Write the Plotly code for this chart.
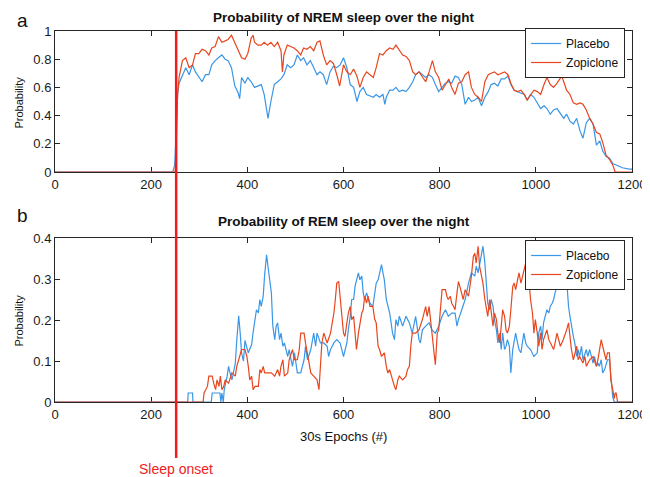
import plotly.graph_objects as go

# ---------------- data ----------------
nrem_placebo_epoch = [0, 245, 249, 252, 255, 258, 265, 272, 279, 286, 292, 299, 306, 313, 320, 326, 333, 340, 347, 354,
                      360, 367, 374, 381, 384, 388, 395, 401, 408, 415, 422, 429, 435, 439, 443, 449, 456, 463, 470, 476,
                      483, 490, 497, 504, 511, 517, 524, 531, 538, 545, 551, 558, 565, 572, 579, 586, 593, 600, 607, 614,
                      621, 628, 634, 641, 648, 655, 662, 668, 675, 682, 686, 689, 696, 703, 709, 716, 723, 730, 737, 744,
                      750, 757, 764, 771, 778, 785, 791, 798, 805, 812, 819, 825, 832, 839, 846, 853, 860, 866, 873, 880,
                      887, 894, 901, 907, 914, 921, 928, 935, 942, 948, 955, 962, 969, 976, 982, 989, 996, 1003, 1010, 1017,
                      1023, 1030, 1037, 1044, 1051, 1058, 1064, 1071, 1078, 1085, 1092, 1098, 1105, 1112, 1119, 1126, 1133,
                      1139, 1146, 1153, 1160, 1167, 1174, 1180, 1194, 1200]
nrem_placebo_prob = [0, 0, 0.05, 0.3, 0.55, 0.63, 0.69, 0.74, 0.69, 0.76, 0.71, 0.67, 0.64, 0.69, 0.69, 0.76, 0.79, 0.81, 0.83, 0.80,
                     0.79, 0.74, 0.61, 0.56, 0.52, 0.67, 0.63, 0.67, 0.64, 0.60, 0.61, 0.62, 0.55, 0.47, 0.38, 0.50, 0.62, 0.64, 0.66, 0.69,
                     0.76, 0.74, 0.76, 0.83, 0.79, 0.81, 0.76, 0.79, 0.74, 0.69, 0.71, 0.69, 0.62, 0.71, 0.75, 0.74, 0.76, 0.81, 0.74, 0.62,
                     0.60, 0.50, 0.57, 0.60, 0.55, 0.54, 0.53, 0.55, 0.53, 0.55, 0.48, 0.53, 0.58, 0.58, 0.60, 0.57, 0.58, 0.57, 0.60, 0.64,
                     0.69, 0.71, 0.69, 0.67, 0.69, 0.67, 0.62, 0.57, 0.60, 0.63, 0.64, 0.63, 0.68, 0.67, 0.62, 0.48, 0.53, 0.50, 0.51, 0.53,
                     0.47, 0.53, 0.57, 0.62, 0.63, 0.61, 0.66, 0.66, 0.68, 0.62, 0.58, 0.57, 0.56, 0.55, 0.51, 0.55, 0.53, 0.49, 0.45, 0.47,
                     0.45, 0.41, 0.44, 0.45, 0.41, 0.38, 0.41, 0.36, 0.34, 0.38, 0.29, 0.24, 0.35, 0.38, 0.34, 0.19, 0.22,
                     0.15, 0.11, 0.10, 0.06, 0.05, 0.04, 0.03, 0.02, 0.02]

nrem_zopiclone_epoch = [0, 250, 252, 255, 258, 265, 272, 279, 286, 292, 299, 306, 313, 320, 326, 333, 340, 347, 354, 360,
                        367, 374, 381, 388, 395, 401, 408, 412, 415, 422, 429, 435, 442, 449, 456, 463, 470, 473, 476, 483,
                        490, 497, 504, 511, 517, 524, 531, 538, 545, 551, 558, 565, 572, 579, 586, 592, 600, 607, 614, 621,
                        628, 634, 641, 648, 655, 662, 668, 675, 682, 689, 696, 703, 709, 716, 723, 730, 737, 744, 750, 757,
                        764, 771, 778, 785, 791, 798, 805, 812, 819, 825, 832, 839, 846, 853, 860, 866, 873, 880, 887, 894,
                        901, 907, 914, 921, 928, 935, 942, 948, 955, 962, 969, 976, 982, 989, 996, 1003, 1010, 1017, 1023,
                        1030, 1037, 1044, 1051, 1054, 1058, 1064, 1071, 1078, 1085, 1092, 1098, 1105, 1112, 1119, 1126, 1133,
                        1139, 1146, 1153, 1160, 1165, 1200]
nrem_zopiclone_prob = [0, 0, 0.2, 0.55, 0.67, 0.79, 0.81, 0.74, 0.76, 0.84, 0.84, 0.87, 0.86, 0.83, 0.88, 0.89, 0.96, 0.92, 0.93, 0.94,
                       0.97, 0.92, 0.86, 0.81, 0.80, 0.84, 0.95, 0.97, 0.92, 0.90, 0.90, 0.92, 0.90, 0.92, 0.89, 0.92, 0.86, 0.71, 0.83, 0.90,
                       0.89, 0.88, 0.86, 0.83, 0.88, 0.87, 0.89, 0.86, 0.92, 0.93, 0.83, 0.76, 0.79, 0.77, 0.69, 0.61, 0.76, 0.71, 0.69, 0.73,
                       0.68, 0.60, 0.67, 0.71, 0.69, 0.67, 0.74, 0.84, 0.83, 0.86, 0.88, 0.87, 0.90, 0.86, 0.83, 0.82, 0.79, 0.71, 0.69, 0.71,
                       0.67, 0.64, 0.71, 0.79, 0.71, 0.67, 0.58, 0.62, 0.66, 0.60, 0.55, 0.63, 0.64, 0.69, 0.71, 0.60, 0.55, 0.53, 0.50, 0.64,
                       0.69, 0.70, 0.71, 0.69, 0.70, 0.71, 0.69, 0.63, 0.58, 0.57, 0.58, 0.55, 0.51, 0.55, 0.58, 0.57, 0.55, 0.62, 0.67,
                       0.62, 0.60, 0.63, 0.66, 0.68, 0.64, 0.58, 0.55, 0.49, 0.48, 0.49, 0.48, 0.44, 0.38, 0.34, 0.28, 0.27,
                       0.21, 0.12, 0.09, 0.05, 0, 0]

rem_placebo_epoch = [0, 276, 277, 286, 287, 325, 327, 343, 345, 347, 350, 352, 358, 361, 364, 368, 371, 375, 378, 382,
                     385, 388, 392, 395, 402, 409, 412, 416, 419, 423, 426, 429, 433, 436, 440, 443, 446, 450, 453, 457,
                     460, 463, 467, 470, 474, 477, 484, 487, 491, 494, 498, 501, 504, 511, 518, 521, 525, 532, 538, 542,
                     545, 552, 559, 566, 569, 573, 580, 586, 593, 600, 603, 607, 610, 614, 617, 621, 624, 627, 631, 634,
                     638, 641, 644, 648, 655, 661, 665, 668, 672, 675, 679, 682, 685, 689, 696, 699, 702, 706, 709, 713,
                     716, 723, 730, 737, 743, 750, 757, 760, 764, 771, 778, 784, 791, 798, 805, 812, 818, 825, 832, 836,
                     839, 846, 853, 860, 866, 873, 876, 880, 887, 890, 894, 897, 900, 904, 907, 911, 914, 918, 921, 925,
                     928, 931, 935, 938, 941, 945, 948, 952, 955, 958, 962, 965, 969, 972, 975, 979, 982, 989, 993, 996,
                     1003, 1006, 1010, 1013, 1016, 1020, 1023, 1027, 1030, 1034, 1037, 1040, 1044, 1047, 1051, 1054, 1057,
                     1061, 1064, 1068, 1071, 1074, 1078, 1081, 1085, 1088, 1091, 1095, 1098, 1105, 1108, 1112, 1119, 1122,
                     1126, 1129, 1132, 1136, 1139, 1143, 1146, 1149, 1153, 1156, 1160, 1163, 1200]
rem_placebo_prob = [0, 0, 0.022, 0.022, 0, 0, 0.022, 0.022, 0, 0.022, 0, 0.03, 0.063, 0.087, 0.071, 0.054, 0.071, 0.095, 0.15, 0.21,
                    0.17, 0.12, 0.10, 0.15, 0.12, 0.14, 0.17, 0.21, 0.225, 0.217, 0.25, 0.233, 0.258, 0.31, 0.359, 0.33, 0.298, 0.266, 0.185, 0.152,
                    0.185, 0.193, 0.152, 0.168, 0.136, 0.144, 0.111, 0.128, 0.103, 0.087, 0.12, 0.095, 0.071, 0.071, 0.103, 0.136, 0.103, 0.128, 0.168, 0.136,
                    0.168, 0.144, 0.144, 0.136, 0.111, 0.128, 0.144, 0.152, 0.144, 0.111, 0.128, 0.144, 0.176, 0.209, 0.25, 0.25, 0.282, 0.298, 0.315, 0.298,
                    0.307, 0.266, 0.25, 0.266, 0.241, 0.233, 0.266, 0.29, 0.298, 0.315, 0.335, 0.315, 0.298, 0.25, 0.217, 0.193, 0.168, 0.152, 0.201, 0.185,
                    0.209, 0.185, 0.209, 0.193, 0.168, 0.209, 0.152, 0.144, 0.176, 0.185, 0.193, 0.176, 0.168, 0.185, 0.209, 0.225, 0.209, 0.217, 0.217, 0.185,
                    0.201, 0.225, 0.25, 0.29, 0.315, 0.307, 0.331, 0.315, 0.363, 0.38, 0.339, 0.274, 0.241, 0.225, 0.25, 0.233, 0.201, 0.176, 0.144, 0.168,
                    0.128, 0.168, 0.128, 0.136, 0.152, 0.136, 0.071, 0.128, 0.144, 0.168, 0.144, 0.128, 0.12, 0.152, 0.168, 0.144, 0.136, 0.128, 0.12, 0.111,
                    0.12, 0.168, 0.185, 0.152, 0.193, 0.209, 0.225, 0.217, 0.233, 0.241, 0.25, 0.266, 0.282, 0.298, 0.31, 0.32, 0.30,
                    0.32, 0.30, 0.233, 0.209, 0.185, 0.16, 0.144, 0.111, 0.128, 0.111, 0.136, 0.103, 0.128, 0.111, 0.128, 0.095, 0.111,
                    0.087, 0.095, 0.087, 0.103, 0.071, 0.079, 0.095, 0.103, 0.103, 0.054, 0.012, 0, 0]

rem_zopiclone_epoch = [0, 308, 310, 317, 320, 327, 330, 334, 337, 341, 344, 347, 351, 354, 361, 368, 375, 378, 382, 385,
                       388, 395, 399, 402, 405, 409, 412, 416, 423, 426, 429, 433, 436, 443, 450, 457, 463, 467, 470, 474,
                       477, 484, 487, 494, 498, 504, 508, 511, 518, 521, 525, 528, 532, 538, 545, 549, 552, 555, 559, 566,
                       573, 580, 583, 586, 590, 593, 597, 600, 603, 607, 610, 614, 617, 621, 624, 627, 631, 634, 638, 641,
                       644, 648, 651, 655, 661, 665, 668, 672, 675, 679, 685, 689, 692, 696, 699, 702, 706, 709, 713, 716,
                       723, 730, 733, 737, 740, 743, 750, 757, 764, 771, 774, 778, 781, 784, 788, 791, 795, 798, 805, 812,
                       815, 818, 822, 825, 829, 832, 836, 839, 842, 846, 849, 853, 856, 860, 863, 866, 870, 873, 876, 880,
                       883, 887, 890, 894, 897, 900, 904, 907, 911, 914, 918, 921, 925, 928, 931, 935, 938, 941, 945, 948,
                       952, 955, 958, 962, 965, 969, 972, 975, 979, 982, 986, 989, 993, 996, 999, 1003, 1006, 1010, 1013,
                       1016, 1023, 1027, 1030, 1037, 1040, 1044, 1051, 1057, 1064, 1068, 1071, 1074, 1078, 1081, 1085, 1088,
                       1091, 1098, 1102, 1105, 1112, 1119, 1126, 1129, 1132, 1136, 1139, 1146, 1149, 1153, 1154, 1156, 1160,
                       1163, 1165, 1167, 1170, 1200]
rem_zopiclone_prob = [0, 0, 0.022, 0.038, 0.063, 0.063, 0.046, 0.030, 0.054, 0.038, 0.063, 0.030, 0.038, 0.054, 0.046, 0.071, 0.063, 0.087, 0.103, 0.12,
                      0.128, 0.128, 0.111, 0.087, 0.054, 0.063, 0.030, 0.038, 0.038, 0.079, 0.071, 0.087, 0.071, 0.071, 0.071, 0.063, 0.079, 0.063, 0.087, 0.103,
                      0.063, 0.071, 0.103, 0.128, 0.103, 0.103, 0.128, 0.168, 0.168, 0.144, 0.12, 0.103, 0.071, 0.063, 0.054, 0.030, 0.095, 0.144, 0.168, 0.144,
                      0.168, 0.217, 0.25, 0.29, 0.294, 0.258, 0.209, 0.168, 0.160, 0.193, 0.217, 0.233, 0.201, 0.209, 0.176, 0.128, 0.168, 0.193, 0.217, 0.225,
                      0.258, 0.241, 0.258, 0.233, 0.233, 0.201, 0.193, 0.136, 0.128, 0.111, 0.12, 0.087, 0.071, 0.079, 0.063, 0.054, 0.038, 0.030, 0.054, 0.063,
                      0.054, 0.063, 0.079, 0.087, 0.136, 0.168, 0.168, 0.176, 0.201, 0.233, 0.209, 0.233, 0.201, 0.168, 0.136, 0.091, 0.168, 0.176, 0.274, 0.274,
                      0.258, 0.25, 0.258, 0.241, 0.233, 0.225, 0.266, 0.294, 0.282, 0.266, 0.25, 0.274, 0.266, 0.258, 0.282, 0.307, 0.355, 0.363, 0.339, 0.38,
                      0.331, 0.31, 0.29, 0.25, 0.225, 0.209, 0.25, 0.225, 0.185, 0.217, 0.201, 0.168, 0.144, 0.185, 0.225, 0.209, 0.176, 0.168, 0.185, 0.225,
                      0.282, 0.29, 0.274, 0.298, 0.315, 0.29, 0.307, 0.323, 0.339, 0.315, 0.29, 0.25, 0.217, 0.168, 0.201, 0.168, 0.136, 0.168, 0.128,
                      0.152, 0.176, 0.152, 0.144, 0.128, 0.144, 0.168, 0.136, 0.152, 0.176, 0.193, 0.16, 0.128, 0.103, 0.12, 0.136, 0.103,
                      0.111, 0.095, 0.111, 0.087, 0.103, 0.111, 0.087, 0.103, 0.128, 0.152, 0.136, 0.103, 0.12, 0.12, 0.103, 0.054, 0.030,
                      0.008, 0.022, 0.022, 0, 0]

series_names = ["Placebo", "Zopiclone"]
sleep_onset_epoch = 252
top_title = "Probability of NREM sleep over the night"
bottom_title = "Probability of REM sleep over the night"
x_ticks = [0, 200, 400, 600, 800, 1000, 1200]
top_y_ticks = [0, 0.2, 0.4, 0.6, 0.8, 1]
top_y_labels = ["0", "0.2", "0.4", "0.6", "0.8", "1"]
bottom_y_ticks = [0, 0.1, 0.2, 0.3, 0.4]
bottom_y_labels = ["0", "0.1", "0.2", "0.3", "0.4"]

# ---------------- styling ----------------
BLUE = "#3a96e6"
RED = "#e8461e"
ONSET = "#f21c1c"
AX = "#262626"
FONT = "Liberation Sans, Arial, sans-serif"

W, H = 650, 477
L, R, T, B = 47, 17, 23, 83
PW, PH = W - L - R, H - T - B


def px_x(p):
    return (p - L) / PW


def px_y(p):
    return (H - B - p) / PH


fig = go.Figure()
fig.add_trace(go.Scatter(x=nrem_placebo_epoch, y=nrem_placebo_prob, mode="lines", name=series_names[0],
                         line=dict(color=BLUE, width=1.2), xaxis="x", yaxis="y", legend="legend"))
fig.add_trace(go.Scatter(x=nrem_zopiclone_epoch, y=nrem_zopiclone_prob, mode="lines", name=series_names[1],
                         line=dict(color=RED, width=1.2), xaxis="x", yaxis="y", legend="legend"))
fig.add_trace(go.Scatter(x=rem_placebo_epoch, y=rem_placebo_prob, mode="lines", name=series_names[0],
                         line=dict(color=BLUE, width=1.2), xaxis="x2", yaxis="y2", legend="legend2"))
fig.add_trace(go.Scatter(x=rem_zopiclone_epoch, y=rem_zopiclone_prob, mode="lines", name=series_names[1],
                         line=dict(color=RED, width=1.2), xaxis="x2", yaxis="y2", legend="legend2"))

axis_common = dict(showline=True, linecolor=AX, linewidth=1, mirror="ticks", ticks="inside",
                   ticklen=5, tickcolor=AX, showgrid=False, zeroline=False, layer="below traces",
                   tickfont=dict(family=FONT, size=13, color="#1a1a1a"))

top_dom = [px_y(164), 1.0]
bot_dom = [0.0, px_y(230)]

legend_common = dict(bgcolor="white", bordercolor=AX, borderwidth=1, xanchor="right", yanchor="top",
                     font=dict(family=FONT, size=12, color="#111111"), tracegroupgap=0,
                     itemwidth=30)

fig.update_layout(
    width=W, height=H,
    margin=dict(l=L, r=R, t=T, b=B),
    paper_bgcolor="white", plot_bgcolor="white",
    xaxis=dict(domain=[0, 1], anchor="y", range=[0, 1200], tickvals=x_ticks, **axis_common),
    yaxis=dict(domain=top_dom, anchor="x", range=[0, 1], tickvals=top_y_ticks, ticktext=top_y_labels, **axis_common),
    xaxis2=dict(domain=[0, 1], anchor="y2", range=[0, 1200], tickvals=x_ticks, **axis_common),
    yaxis2=dict(domain=bot_dom, anchor="x2", range=[0, 0.4], tickvals=bottom_y_ticks, ticktext=bottom_y_labels,
                **axis_common),
    legend=dict(x=px_x(626), y=px_y(20), **legend_common),
    legend2=dict(x=px_x(626), y=px_y(232), **legend_common),
    showlegend=True,
)

# sleep onset line spanning both panels
fig.add_shape(type="line", xref="x2", yref="paper", x0=sleep_onset_epoch, x1=sleep_onset_epoch,
              y0=px_y(450), y1=px_y(23), line=dict(color=ONSET, width=2.5), layer="above")

annots = [
    dict(text="a", x=px_x(14), y=px_y(12), font=dict(family=FONT, size=19, color="#111")),
    dict(text="b", x=px_x(14), y=px_y(207), font=dict(family=FONT, size=19, color="#111")),
    dict(text="<b>" + top_title + "</b>", x=px_x(340), y=px_y(10), font=dict(family=FONT, size=13.5, color="#111")),
    dict(text="<b>" + bottom_title + "</b>", x=px_x(340), y=px_y(213), font=dict(family=FONT, size=13.5, color="#111")),
    dict(text="Probability", x=px_x(10), y=px_y(95), textangle=-90, font=dict(family=FONT, size=11, color="#111")),
    dict(text="Probability", x=px_x(10), y=px_y(313), textangle=-90, font=dict(family=FONT, size=11, color="#111")),
    dict(text="30s Epochs (#)", x=px_x(340), y=px_y(428), font=dict(family=FONT, size=13, color="#111")),
]
for a in annots:
    fig.add_annotation(xref="paper", yref="paper", showarrow=False, xanchor="center", yanchor="middle", **a)

fig.add_annotation(xref="x2", yref="paper", x=sleep_onset_epoch, y=px_y(461), text="Sleep onset",
                   showarrow=False, xanchor="center", yanchor="middle",
                   font=dict(family=FONT, size=14, color=ONSET))

fig.write_html("out.html")
